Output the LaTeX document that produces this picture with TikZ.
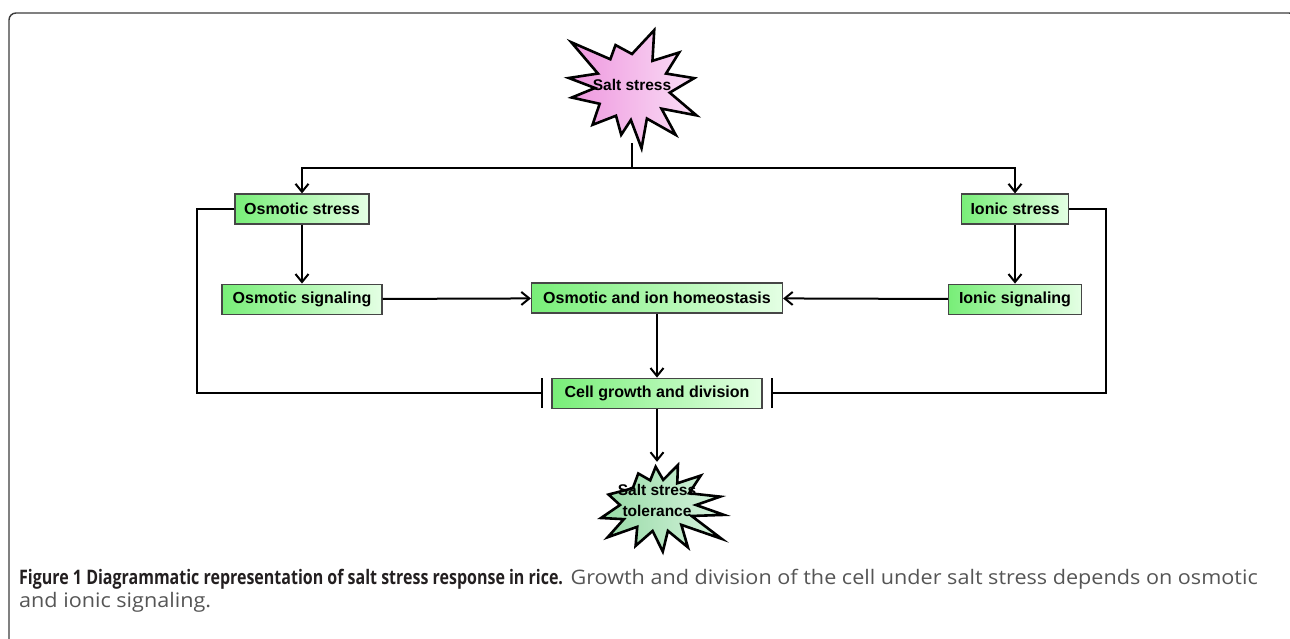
\documentclass[tikz,border=0pt]{standalone}
\usepackage{fontspec}
\setmainfont{Liberation Sans}
\newfontfamily\capfont[FakeStretch=1.08]{Open Sans}
\newfontfamily\capbf[FakeStretch=0.80]{Open Sans}
\usepackage{tikz}
\usetikzlibrary{positioning, calc, shapes.geometric, arrows.meta}
\usepackage{xcolor}
\definecolor{boxline}{RGB}{70,70,70}
\definecolor{boxgreen}{RGB}{120,238,120}
\definecolor{boxpale}{RGB}{228,255,228}
\definecolor{pinkA}{RGB}{238,150,222}
\definecolor{pinkB}{RGB}{250,222,246}
\definecolor{mintA}{RGB}{150,218,165}
\definecolor{mintB}{RGB}{215,243,222}
\definecolor{framegray}{RGB}{60,60,60}
\definecolor{capdark}{RGB}{35,31,32}
\definecolor{capgray}{RGB}{85,85,85}
\tikzstyle{Box} = [
draw=boxline, line width=1.2pt,
left color=boxgreen, right color=boxpale,
minimum height=30pt, inner sep=0pt,
font={\fontsize{16}{19}\selectfont\bfseries}]
\tikzstyle{Arrow} = [
line width=2pt,
-{Straight Barb[length=8pt, width=13pt, line width=2pt]}]
\tikzstyle{Inhibit} = [
line width=2pt,
-{Bar[width=30pt, line width=2pt]}, shorten >= 8pt]
\tikzstyle{Burst} = [
draw, line width=2.6pt, line join=miter, miter limit=20]
\tikzstyle{Label} = [
inner sep=0pt, align=center,
font={\fontsize{15.5}{21}\selectfont\bfseries}]
\tikzstyle{Caption} = [
anchor=base west, inner sep=0pt, text=capgray,
font={\capfont\fontsize{20}{23}\selectfont}]

\begin{document}
\begin{tikzpicture}[x=1pt, y=-1pt]
    \useasboundingbox (0,0) rectangle (1290,638);
    \draw[line width=1.4pt, framegray, rounded corners=7pt]
        (9,650) -- (9,13) -- (1296,13) -- (1296,200);

    % bursts
    \coordinate (c1) at (632,88);
    \coordinate (c2) at (658,505);
    \begin{scope}[shift={(c1)}, yscale=-1]
    \draw[Burst, left color=pinkA, right color=pinkB]
        (143:76) -- (127:36) -- (111:46) -- (90:34) -- (69:62) -- (53:34)
        -- (37:59) -- (23:37) -- (9:63) -- (-7:38) -- (-23:70) -- (-35:36)
        -- (-47:64) -- (-64:34) -- (-81:61) -- (-92:32) -- (-103:48)
        -- (-120:32) -- (-137:54) -- (-154:36) -- (-171:61) -- (180:37)
        -- (171:64) -- (157:37) -- cycle;
    \end{scope}
    \begin{scope}[shift={(c2)}, yscale=-0.85]
    \draw[Burst, left color=mintA, right color=mintB]
        (118:42) -- (105:30) -- (93:45) -- (80:30) -- (67:51) -- (53:32)
        -- (39:55) -- (24:34) -- (9:63) -- (0:38) -- (-10:67) -- (-21:36)
        -- (-32:75) -- (-45:33) -- (-59:58) -- (-72:32) -- (-85:55)
        -- (-100:31) -- (-115:53) -- (-129:33) -- (-143:63) -- (-154:38)
        -- (-165:59) -- (180:38) -- (166:51) -- (142:32) -- cycle;
    \end{scope}

    \node[Label, minimum height=116pt] (1) at (632,85) {Salt stress};
    \coordinate[below=25pt of 1] (2);
    \node[Box, minimum width=134pt] (3) at (302,209) {Osmotic stress};
    \node[Box, minimum width=107pt] (4) at (1015,209) {Ionic stress};
    \node[Box, minimum width=160pt, below=59pt of 3] (5) {Osmotic signaling};
    \node[Box, minimum width=133pt, below=59pt of 4] (6) {Ionic signaling};
    \node[Box, minimum width=251pt] (7) at (657,298) {Osmotic and ion homeostasis};
    \node[Box, minimum width=210pt, below=64pt of 7] (8) {Cell growth and division};
    \node[Label, minimum height=76pt, below=53pt of 8] (9) {Salt stress\\tolerance};

    \draw[line width=2pt] (1) -- (2);
    \draw[Arrow] (2) -| (3);
    \draw[Arrow] (2) -| (4);
    \draw[Arrow] (3) -- (5);
    \draw[Arrow] (4) -- (6);
    \draw[Arrow] (5) -- (7);
    \draw[Arrow] (6) -- (7);
    \draw[Arrow] (7) -- (8);
    \draw[Arrow] (8) -- (9);
    \draw[Inhibit] (3.west) -- ++(-37,0) |- (8.west);
    \draw[Inhibit] (4.east) -- ++(37,0) |- (8.east);

    % caption
    \node[Caption] (10) at (19,584)
        {{\capbf\bfseries\color{capdark}Figure 1 Diagrammatic representation of salt stress response in rice.} Growth and division of the cell under salt stress depends on osmotic};
    \node[Caption] (11) at (19,607) {and ionic signaling.};
\end{tikzpicture}
\end{document}
